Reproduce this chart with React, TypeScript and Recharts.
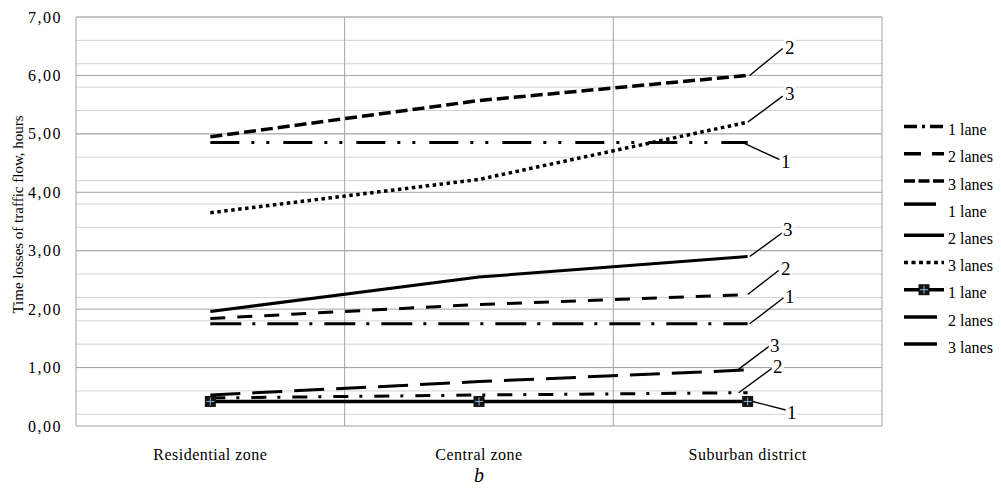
import { LineChart, Line, XAxis, YAxis, CartesianGrid, Legend, LabelList } from "recharts";

const FONT = "'Times New Roman', 'Liberation Serif', 'DejaVu Serif', serif";

const categories = ["Residential zone", "Central zone", "Suburban district"];
const yTicks = [0, 1, 2, 3, 4, 5, 6, 7];
const yMinorTicks = Array.from({ length: 36 }, (_, i) => Math.round(i * 2) / 10);
const yTitle = "Time losses of traffic flow, hours";
const figureTag = "b";

// upper group (about 4-6 hours)
const upperLane1 = [4.85, 4.85, 4.85];
const upperLane2 = [4.95, 5.57, 6.0];
const upperLane3 = [3.65, 4.22, 5.2];

// middle group (about 2-3 hours)
const middleLane1 = [1.75, 1.75, 1.75];
const middleLane2 = [1.84, 2.08, 2.25];
const middleLane3 = [1.96, 2.55, 2.9];

// lower group (under 1 hour)
const lowerLane1 = [0.42, 0.42, 0.42];
const lowerLane2 = [0.48, 0.53, 0.57];
const lowerLane3 = [0.53, 0.76, 0.96];

type SeriesDef = {
  key: string;
  name: string;
  values: number[];
  tag: string;
};

// legend order follows the original workbook
const series: SeriesDef[] = [
  { key: "m1", name: "1 lane", values: middleLane1, tag: "1" },
  { key: "m2", name: "2 lanes", values: middleLane2, tag: "2" },
  { key: "m3", name: "3 lanes", values: middleLane3, tag: "3" },
  { key: "u1", name: "1 lane", values: upperLane1, tag: "1" },
  { key: "u2", name: "2 lanes", values: upperLane2, tag: "2" },
  { key: "u3", name: "3 lanes", values: upperLane3, tag: "3" },
  { key: "l1", name: "1 lane", values: lowerLane1, tag: "1" },
  { key: "l2", name: "2 lanes", values: lowerLane2, tag: "2" },
  { key: "l3", name: "3 lanes", values: lowerLane3, tag: "3" },
];

type Look = {
  dash?: string;
  width: number;
  marker?: boolean;
  lead: [number, number, number];
  tagAt: [number, number];
  legendDash?: string;
  legendLen: number;
  legendLift: number;
};

const looks: Record<string, Look> = {
  m1: { dash: "31 11 3 12", width: 3, lead: [2, 36, -26], tagAt: [42, -27], legendDash: "13 5 3 5", legendLen: 40, legendLift: 3 },
  m2: { dash: "15 12", width: 3, lead: [0, 31, -24], tagAt: [38, -26], legendDash: "17 11", legendLen: 40, legendLift: 3 },
  m3: { width: 3, lead: [2, 35, -24], tagAt: [40, -27], legendDash: "11 3.5", legendLen: 40, legendLift: 3 },
  u1: { dash: "29 12 3 12 3 14", width: 3, lead: [-5, 32, 17], tagAt: [38, 19], legendLen: 32, legendLift: 7 },
  u2: { dash: "12 5", width: 3.5, lead: [2, 35, -27], tagAt: [42, -28], legendLen: 40, legendLift: 3 },
  u3: { dash: "3.5 3.5", width: 3.5, lead: [0, 35, -26], tagAt: [42, -29], legendDash: "4 3.5", legendLen: 40, legendLift: 3 },
  l1: { width: 3.5, marker: true, lead: [5, 40, 9], tagAt: [44, 11], legendLen: 40, legendLift: 3 },
  l2: { dash: "15 11 3 12", width: 3, lead: [-9, 25, -25], tagAt: [30, -26], legendLen: 33, legendLift: 3 },
  l3: { dash: "30 12", width: 3, lead: [-10, 22, -24], tagAt: [27, -25], legendLen: 33, legendLift: 3 },
};

const lastIndex = categories.length - 1;
const fmt = (v: number) => v.toFixed(2).replace(".", ",");

function Square({ cx, cy }: { cx: number; cy: number }) {
  return (
    <g>
      <rect x={cx - 5.5} y={cy - 5.5} width={11} height={11} fill="#141414" />
      <line x1={cx - 4} y1={cy} x2={cx + 4} y2={cy} stroke="#8fb0e0" strokeWidth={1} />
      <line x1={cx} y1={cy - 4} x2={cx} y2={cy + 4} stroke="#8fb0e0" strokeWidth={1} />
    </g>
  );
}

function tagContent(s: SeriesDef) {
  const lk = looks[s.key];
  return (p: any) => {
    if (p.index !== lastIndex) return null;
    const x = Number(p.x);
    const y = Number(p.y);
    const [sdx, edx, edy] = lk.lead;
    const [tdx, tdy] = lk.tagAt;
    return (
      <g>
        <line x1={x + sdx} y1={y} x2={x + edx} y2={y + edy} stroke="#000" strokeWidth={1.4} />
        <rect x={x + tdx - 6} y={y + tdy - 10} width={12} height={20} fill="#fff" />
        <text x={x + tdx} y={y + tdy} dy="0.35em" textAnchor="middle" fontSize={19} fontFamily={FONT} fill="#000">
          {s.tag}
        </text>
      </g>
    );
  };
}

function YTick({ x, y, payload }: any) {
  return (
    <text x={x} y={y} dy="0.35em" textAnchor="end" fontSize={16} fontFamily={FONT} fill="#000" letterSpacing={1.5}>
      {fmt(payload.value)}
    </text>
  );
}

function XTick({ x, y, payload }: any) {
  return (
    <text x={x} y={y + 28} textAnchor="middle" fontSize={16} fontFamily={FONT} fill="#000" letterSpacing={0.5}>
      {categories[Math.floor(payload.value)]}
    </text>
  );
}

function LegendBox() {
  return (
    <svg width={106} height={250} style={{ display: "block" }}>
      {series.map((s, i) => {
        const lk = looks[s.key];
        const ty = 19.5 + 27.2 * i;
        const sy = ty - lk.legendLift;
        return (
          <g key={s.key}>
            <line x1={9} y1={sy} x2={9 + lk.legendLen} y2={sy} stroke="#000" strokeWidth={3.5} strokeDasharray={lk.legendDash} />
            {lk.marker && <Square cx={9 + lk.legendLen / 2} cy={sy} />}
            <text x={53} y={ty} dy="0.35em" fontSize={16} fontFamily={FONT} fill="#000">
              {s.name}
            </text>
          </g>
        );
      })}
    </svg>
  );
}

export default function App() {
  const data = categories.map((c, i) => {
    const row: Record<string, number | string> = { x: i + 0.5, name: c };
    series.forEach((s) => {
      row[s.key] = s.values[i];
    });
    return row;
  });

  return (
    <div style={{ position: "absolute", left: 0, top: 0, width: 1001, height: 490, background: "#fff", fontFamily: FONT }}>
      <LineChart width={1001} height={490} data={data} margin={{ top: 17, right: 119, bottom: 0, left: 0 }} style={{ fontFamily: FONT }}>
        <CartesianGrid horizontalValues={yMinorTicks} vertical={false} stroke="#d2d2d2" />
        <CartesianGrid horizontalValues={yTicks} verticalValues={[0, 1, 2, 3]} stroke="#a3a3a3" />
        <XAxis
          type="number"
          dataKey="x"
          domain={[0, 3]}
          ticks={[0.5, 1.5, 2.5]}
          axisLine={false}
          tickLine={false}
          tickMargin={0}
          height={64}
          tick={<XTick />}
          label={{
            content: ({ viewBox }: any) => (
              <text
                x={viewBox.x + viewBox.width / 2}
                y={viewBox.y + 56}
                textAnchor="middle"
                fontSize={20}
                fontStyle="italic"
                fontFamily={FONT}
                fill="#000"
              >
                {figureTag}
              </text>
            ),
          }}
        />
        <YAxis
          domain={[0, 7]}
          ticks={yTicks}
          axisLine={false}
          tickLine={false}
          tickMargin={8}
          width={76}
          tick={<YTick />}
          label={{
            content: ({ viewBox }: any) => {
              const cy = viewBox.y + viewBox.height / 2 - 7;
              return (
                <text
                  x={18}
                  y={cy}
                  transform={`rotate(-90 18 ${cy})`}
                  textAnchor="middle"
                  dy="0.35em"
                  fontSize={15}
                  fontFamily={FONT}
                  fill="#000"
                >
                  {yTitle}
                </text>
              );
            },
          }}
        />
        <Legend
          layout="vertical"
          align="center"
          verticalAlign="middle"
          wrapperStyle={{ left: 895, top: 110, width: 106 }}
          content={() => <LegendBox />}
        />
        {series.map((s) => {
          const lk = looks[s.key];
          return (
            <Line
              key={s.key}
              type="linear"
              dataKey={s.key}
              name={s.name}
              stroke="#000"
              strokeWidth={lk.width}
              strokeDasharray={lk.dash}
              dot={lk.marker ? (p: any) => <Square key={`${s.key}-${p.index}`} cx={p.cx} cy={p.cy} /> : false}
              activeDot={false}
              isAnimationActive={false}
            >
              <LabelList dataKey={s.key} content={tagContent(s)} />
            </Line>
          );
        })}
      </LineChart>
    </div>
  );
}
